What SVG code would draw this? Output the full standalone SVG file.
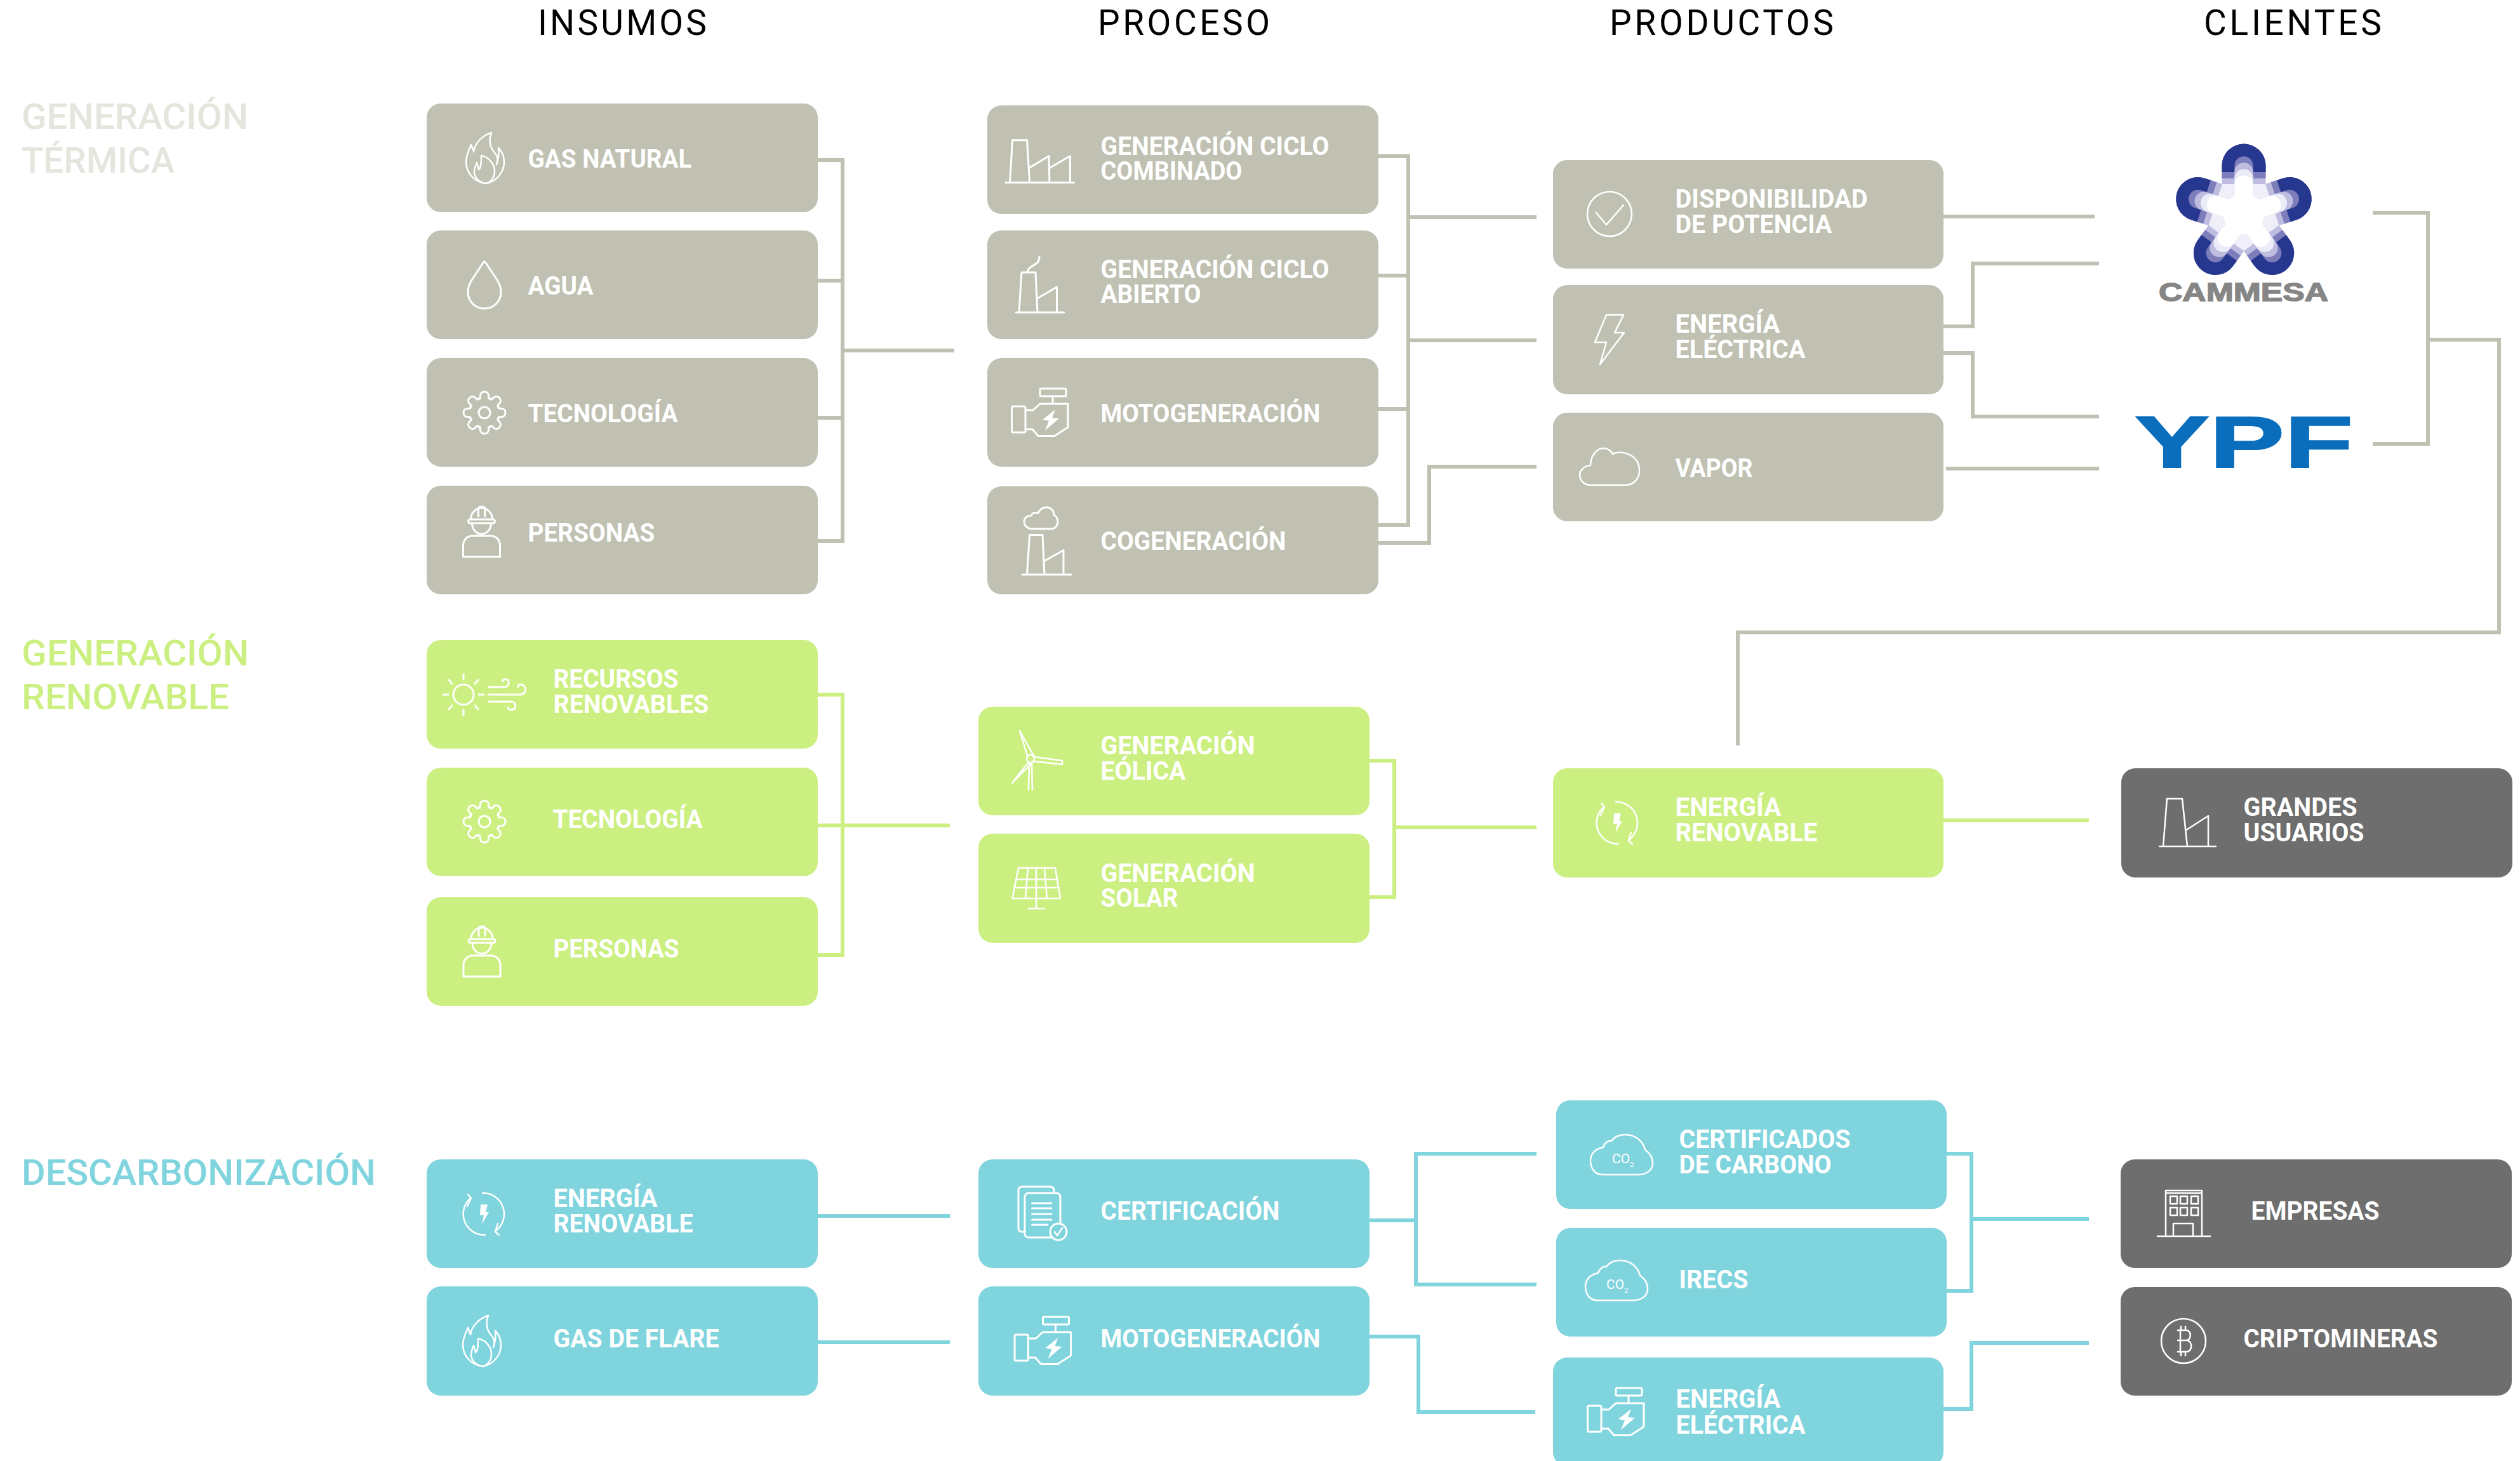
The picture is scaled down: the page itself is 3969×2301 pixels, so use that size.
<svg xmlns="http://www.w3.org/2000/svg" xmlns:xlink="http://www.w3.org/1999/xlink" width="3969" height="2301" viewBox="0 0 3969 2301">
<style>
text{font-family:Roboto,"Liberation Sans",sans-serif}
.box{stroke:none}
.beige{fill:#c0c1b2}.green{fill:#ccef82}.teal{fill:#80d4de}.grey{fill:#6e6e6e}
.t{fill:#fff;font-size:40px;font-weight:700;transform:translate(-1.5px,1px)}
.h{fill:#000;font-size:55px;font-weight:400}
.s{font-size:56px;font-weight:500;transform:translateX(-2px)}
.ic{fill:none;stroke:#fff;stroke-width:3;stroke-linejoin:round;stroke-linecap:round}
.thin{stroke-width:2.5}
.solid{fill:#fff;stroke:none}
.cb{fill:none;stroke:#c0c1b2;stroke-width:6}
.cg{fill:none;stroke:#ccef82;stroke-width:6}
.ct{fill:none;stroke:#80d4de;stroke-width:6}
.co{fill:#fff;stroke:none;font-size:21px;font-weight:400}
</style>
<defs>
<g id="flame" class="ic thin">
<path d="M1,40C-16,38 -30,24 -30,6C-30,-4 -26,-12 -22,-21L-18,-10C-16,-24 -4,-36 10,-40C4,-24 10,-14 17,-6C20,-2 20,4 18,10C21,2 22,-8 21,-16C27,-10 30,-2 30,6C30,24 16,38 1,40Z"/>
<path d="M1,40C-10,38 -17,30 -17,22C-17,16 -15,12 -13,7L-10,18C-6,16 -6,4 -6,-4C6,-2 15,10 15,20C15,30 10,38 1,40"/>
</g>
<g id="drop" class="ic"><path d="M-1.5,-36Q0,-38 1.5,-36L20,-8C25,0 26,6 26,11C26,26 14,37 0,37C-14,37 -26,26 -26,11C-26,6 -25,0 -20,-8Z"/></g>
<path id="lobe" d="M-9.2,-22.2C-6,-21 -6.5,-24 -6.5,-27C-6.5,-35 6.5,-35 6.5,-27C6.5,-24 6,-21 9.2,-22.2"/>
<g id="gear" class="ic">
<use href="#lobe"/><use href="#lobe" transform="rotate(45)"/><use href="#lobe" transform="rotate(90)"/><use href="#lobe" transform="rotate(135)"/><use href="#lobe" transform="rotate(180)"/><use href="#lobe" transform="rotate(225)"/><use href="#lobe" transform="rotate(270)"/><use href="#lobe" transform="rotate(315)"/>
<circle r="9"/>
</g>
<g id="person" class="ic">
<path d="M-17,-19C-17,-30 -8,-37 0,-37C8,-37 17,-30 17,-19"/>
<path d="M-5,-24V-36Q-5,-39 0,-39Q5,-39 5,-36V-24"/>
<rect x="-21" y="-19" width="42" height="6" rx="3"/>
<path d="M-15,-13C-15,-3 -8,4 0,4C8,4 15,-3 15,-13"/>
<path d="M-29,40V22C-29,13 -22,7 -15,7H15C22,7 29,13 29,22V40Z"/>
</g>
<g id="motor" class="ic">
<rect x="1593.6" y="640" width="21.4" height="41" rx="2"/>
<path d="M1615,646H1627L1638,636H1682V673L1661,686.5H1635L1626,676H1615"/>
<rect x="1638" y="612" width="41" height="12" rx="2"/>
<path d="M1658,624V636"/>
<path class="solid" d="M1662,645L1642,661L1652,663L1646,678L1668,659L1657,658Z"/>
</g>
<g id="recycle" class="ic thin">
<path d="M-2,-33A33,33 0 0 1 18,27"/><path d="M22,15L18,28L24,33"/>
<path d="M2,33A33,33 0 0 1 -22,-24"/><path d="M-25,-31L-20,-25L-26,-12"/>
<path class="solid" d="M-5,-15H6L3,-3H8L-3,16L0,2H-6Z"/>
</g>
<path id="cloudco" d="M19,63C6,63 0,52 0,41C0,30 8,22 20,20C22,13 28,9 33,10C38,3 47,0 55,0C70,0 83,10 86,24C93,28 98,36 98,45C98,56 88,63 76,63Z"/>
<g id="lobeband">
<path fill="#bebde0" d="M-34.5,-47V-76A34.5,34.5 0 0 1 34.5,-76V-47Z"/>
<path fill="#7e7dbc" d="M-34.5,-56V-76A34.5,34.5 0 0 1 34.5,-76V-56Z"/>
<path fill="#26378f" d="M-34.5,-66V-76A34.5,34.5 0 0 1 34.5,-76V-66Z"/>
</g>
<path id="spokes" fill="none" stroke-linecap="round" d="M0,0V-76M0,0L72.3,-23.5M0,0L44.7,61.5M0,0L-44.7,61.5M0,0L-72.3,-23.5"/>
<path id="spokes2" fill="none" stroke-linecap="round" d="M0,0V-66M0,0L62.8,-20.4M0,0L38.8,53.4M0,0L-38.8,53.4M0,0L-62.8,-20.4"/>
<path id="spokes3" fill="none" stroke-linecap="round" d="M0,0V-56M0,0L53.3,-17.3M0,0L32.9,45.3M0,0L-32.9,45.3M0,0L-53.3,-17.3"/>
<path id="spokes4" fill="none" stroke-linecap="round" d="M0,0V-46M0,0L43.7,-14.2M0,0L27,37.2M0,0L-27,37.2M0,0L-43.7,-14.2"/>
</defs>

<g id="connectors">
<path class="cb" d="M1288,252H1327V852H1288M1288,442H1327M1288,658H1327M1327,552H1503"/>
<path class="cb" d="M2171,246H2218V827H2171M2171,434H2218M2171,644H2218M2218,342H2420M2218,536H2420M2171,855H2251V735H2420"/>
<path class="cb" d="M3061,341H3299M3061,514H3107V415H3306M3061,556H3107V656H3306M3065,738H3306"/>
<path class="cb" d="M3737,335H3824V699H3737M3824,535H3936V996H2737V1174"/>
<path class="cg" d="M1288,1094H1327V1504H1288M1288,1300H1496M2157,1198H2196V1413H2157M2196,1303H2420M3061,1292H3290"/>
<path class="ct" d="M1288,1915H1496M1288,2114H1496M2157,1922H2230M2420,1817H2230V2023H2420M2157,2105H2234V2224H2418"/>
<path class="ct" d="M3066,1817H3105V2033H3066M3105,1920H3290M3061,2219H3105V2115H3290"/>
</g>

<g id="headers">
<text class="h" x="847" y="55" textLength="266">INSUMOS</text>
<text class="h" x="1729" y="55" textLength="271">PROCESO</text>
<text class="h" x="2535" y="55" textLength="353">PRODUCTOS</text>
<text class="h" x="3471" y="55" textLength="280">CLIENTES</text>
</g>

<g id="section-termica">
<text class="s" fill="#e4e5dd" x="36" y="203" textLength="357" lengthAdjust="spacingAndGlyphs">GENERACIÓN</text>
<text class="s" fill="#e4e5dd" x="36" y="272" textLength="241" lengthAdjust="spacingAndGlyphs">TÉRMICA</text>
</g>
<g id="section-renovable">
<text class="s" fill="#ccef82" x="36" y="1048" textLength="358" lengthAdjust="spacingAndGlyphs">GENERACIÓN</text>
<text class="s" fill="#ccef82" x="36" y="1117" textLength="327" lengthAdjust="spacingAndGlyphs">RENOVABLE</text>
</g>
<g id="section-descarbonizacion">
<text class="s" fill="#80d4de" x="36" y="1866" textLength="558" lengthAdjust="spacingAndGlyphs">DESCARBONIZACIÓN</text>
</g>

<g id="gas-natural"><rect class="box beige" x="672" y="163" width="616" height="171" rx="22"/>
<use href="#flame" transform="translate(764,249)"/>
<text class="t" x="833" y="263" textLength="258" lengthAdjust="spacingAndGlyphs">GAS NATURAL</text></g>
<g id="agua"><rect class="box beige" x="672" y="363" width="616" height="171" rx="22"/>
<use href="#drop" transform="translate(763,449)"/>
<text class="t" x="833" y="463" textLength="103" lengthAdjust="spacingAndGlyphs">AGUA</text></g>
<g id="tecnologia-t"><rect class="box beige" x="672" y="564" width="616" height="171" rx="22"/>
<use href="#gear" transform="translate(763,650)"/>
<text class="t" x="833" y="664" textLength="236" lengthAdjust="spacingAndGlyphs">TECNOLOGÍA</text></g>
<g id="personas-t"><rect class="box beige" x="672" y="765" width="616" height="171" rx="22"/>
<use href="#person" transform="translate(758.5,837)"/>
<text class="t" x="833" y="852" textLength="200" lengthAdjust="spacingAndGlyphs">PERSONAS</text></g>

<g id="ciclo-combinado"><rect class="box beige" x="1555" y="166" width="616" height="171" rx="22"/>
<g class="ic"><path d="M1584,287.5H1691.5M1590.5,287.5L1594.6,220.7H1617.6L1621.6,287.5M1620.6,264.6L1652,245.7L1653,287.5M1653,264.6L1685.4,245.7V287.5"/></g>
<text class="t" x="1735" y="243" textLength="360" lengthAdjust="spacingAndGlyphs">GENERACIÓN CICLO</text>
<text class="t" x="1735" y="282" textLength="223" lengthAdjust="spacingAndGlyphs">COMBINADO</text></g>
<g id="ciclo-abierto"><rect class="box beige" x="1555" y="363" width="616" height="171" rx="22"/>
<g class="ic"><path d="M1600,492H1676M1605,492L1609,429H1631L1634,492M1634,470L1664.5,452V492M1618,428C1622,415 1637,420 1637,404"/></g>
<text class="t" x="1735" y="437" textLength="360" lengthAdjust="spacingAndGlyphs">GENERACIÓN CICLO</text>
<text class="t" x="1735" y="476" textLength="158" lengthAdjust="spacingAndGlyphs">ABIERTO</text></g>
<g id="motogeneracion-t"><rect class="box beige" x="1555" y="564" width="616" height="171" rx="22"/>
<use href="#motor"/>
<text class="t" x="1735" y="664" textLength="346" lengthAdjust="spacingAndGlyphs">MOTOGENERACIÓN</text></g>
<g id="cogeneracion"><rect class="box beige" x="1555" y="766" width="616" height="170" rx="22"/>
<g class="ic"><path d="M1626,833C1618,833 1613,827 1613,822C1613,815 1618,812 1624,812C1626,808 1630,806 1635,808C1638,802 1643,799 1648,799C1655,799 1660,804 1660,811C1664,813 1666,818 1666,822C1666,828 1661,833 1656,833Z"/><path d="M1610,905H1687M1617.5,905L1621.6,842.6H1642L1645,905M1645,883.5L1675,866.6V905"/></g>
<text class="t" x="1735" y="865" textLength="292" lengthAdjust="spacingAndGlyphs">COGENERACIÓN</text></g>

<g id="disponibilidad"><rect class="box beige" x="2446" y="252" width="615" height="171" rx="22"/>
<g class="ic thin"><circle cx="2535" cy="337" r="35"/><path d="M2514,335L2530,354L2557,323"/></g>
<text class="t" x="2640" y="326" textLength="303" lengthAdjust="spacingAndGlyphs">DISPONIBILIDAD</text>
<text class="t" x="2640" y="366" textLength="247" lengthAdjust="spacingAndGlyphs">DE POTENCIA</text></g>
<g id="energia-electrica-t"><rect class="box beige" x="2446" y="449" width="615" height="172" rx="22"/>
<g class="ic thin"><path d="M2530,496H2557L2543,524H2558L2520,574L2530,539H2512Z"/></g>
<text class="t" x="2640" y="523" textLength="165" lengthAdjust="spacingAndGlyphs">ENERGÍA</text>
<text class="t" x="2640" y="563" textLength="205" lengthAdjust="spacingAndGlyphs">ELÉCTRICA</text></g>
<g id="vapor"><rect class="box beige" x="2446" y="650" width="615" height="171" rx="22"/>
<g class="ic thin"><path d="M2505,764C2492,764 2488,753 2488,748C2488,740 2497,733 2505,733C2505,718 2515,706 2525,706C2532,706 2538,710 2540,715C2552,708 2582,715 2582,741C2582,755 2572,764 2560,764Z"/></g>
<text class="t" x="2640" y="750" textLength="122" lengthAdjust="spacingAndGlyphs">VAPOR</text></g>

<g id="cammesa">
<g transform="translate(3534,337)">
<g stroke="#f0eff9" fill="none" stroke-width="69"><path d="M0,0V-47M0,0L44.7,-14.5M0,0L27.6,38M0,0L-27.6,38M0,0L-44.7,-14.5"/></g>
<use href="#lobeband"/><use href="#lobeband" transform="rotate(72)"/><use href="#lobeband" transform="rotate(144)"/><use href="#lobeband" transform="rotate(216)"/><use href="#lobeband" transform="rotate(288)"/>
<use href="#spokes" stroke="#7e7dbc" stroke-width="29.4"/>
<use href="#spokes2" stroke="#bebde0" stroke-width="29.4"/>
<use href="#spokes3" stroke="#ecebf8" stroke-width="29.4"/>
<use href="#spokes4" stroke="#fff" stroke-width="29.4"/>
<circle r="32" fill="#fff"/>
</g>
<text x="3400" y="474" fill="#868686" stroke="#868686" stroke-width="1.5" font-size="40" font-weight="700" textLength="267" lengthAdjust="spacingAndGlyphs" style="font-family:'Liberation Sans',sans-serif">CAMMESA</text>
</g>
<g id="ypf">
<text x="3362" y="735.5" fill="#0a6ebd" stroke="#0a6ebd" stroke-width="2" font-size="115" font-weight="700" textLength="344" lengthAdjust="spacingAndGlyphs" style="font-family:'Liberation Sans',sans-serif">YPF</text>
</g>

<g id="recursos"><rect class="box green" x="672" y="1008" width="616" height="171" rx="22"/>
<g class="ic"><circle cx="730" cy="1094" r="16"/><path d="M730,1062V1070M730,1118V1126M698,1094H706M754,1094H762M707,1071L712,1077M753,1071L748,1077M707,1117L712,1111M753,1117L748,1111"/>
<path d="M770,1082H795C802,1082 804,1070 797,1070C793,1069 791,1072 792,1073M770,1094H820C830,1094 830,1078 820,1078C816,1078 815,1081 816,1082M770,1105H805C814,1105 814,1118 806,1118C802,1118 800,1116 800,1114"/></g>
<text class="t" x="873" y="1082" textLength="197" lengthAdjust="spacingAndGlyphs">RECURSOS</text>
<text class="t" x="873" y="1122" textLength="245" lengthAdjust="spacingAndGlyphs">RENOVABLES</text></g>
<g id="tecnologia-r"><rect class="box green" x="672" y="1209" width="616" height="171" rx="22"/>
<use href="#gear" transform="translate(763,1294)"/>
<text class="t" x="872" y="1303" textLength="236" lengthAdjust="spacingAndGlyphs">TECNOLOGÍA</text></g>
<g id="personas-r"><rect class="box green" x="672" y="1413" width="616" height="171" rx="22"/>
<use href="#person" transform="translate(759,1498)"/>
<text class="t" x="873" y="1507" textLength="198" lengthAdjust="spacingAndGlyphs">PERSONAS</text></g>

<g id="eolica"><rect class="box green" x="1541" y="1113" width="616" height="171" rx="22"/>
<g class="ic thin"><circle cx="1623" cy="1195" r="6"/><path d="M1620,1244L1621,1201M1626,1244L1625,1201M1618,1190L1606,1151L1628,1190M1620,1200L1594,1233L1626,1201M1629,1192L1673,1198V1204L1629,1199"/></g>
<text class="t" x="1735" y="1187" textLength="243" lengthAdjust="spacingAndGlyphs">GENERACIÓN</text>
<text class="t" x="1735" y="1227" textLength="134" lengthAdjust="spacingAndGlyphs">EÓLICA</text></g>
<g id="solar"><rect class="box green" x="1541" y="1313" width="616" height="172" rx="22"/>
<g class="ic thin"><path d="M1604,1367H1662L1670,1415H1594.5ZM1600,1385H1666M1597,1398H1668M1619,1367L1615,1415M1632,1367V1415M1645,1367L1649,1415M1632,1415V1431M1620,1431H1645"/></g>
<text class="t" x="1735" y="1388" textLength="243" lengthAdjust="spacingAndGlyphs">GENERACIÓN</text>
<text class="t" x="1735" y="1427" textLength="122" lengthAdjust="spacingAndGlyphs">SOLAR</text></g>
<g id="energia-renovable-r"><rect class="box green" x="2446" y="1210" width="615" height="172" rx="22"/>
<use href="#recycle" transform="translate(2547,1296)"/>
<text class="t" x="2640" y="1284" textLength="167" lengthAdjust="spacingAndGlyphs">ENERGÍA</text>
<text class="t" x="2640" y="1324" textLength="224" lengthAdjust="spacingAndGlyphs">RENOVABLE</text></g>
<g id="grandes-usuarios"><rect class="box grey" x="3341" y="1210" width="616" height="172" rx="22"/>
<g class="ic thin"><path d="M3401,1333H3490M3407,1333L3413,1258H3437L3445,1333M3442,1308L3478,1285V1333"/></g>
<text class="t" x="3535" y="1284" textLength="179" lengthAdjust="spacingAndGlyphs">GRANDES</text>
<text class="t" x="3535" y="1324" textLength="190" lengthAdjust="spacingAndGlyphs">USUARIOS</text></g>

<g id="energia-renovable-d"><rect class="box teal" x="672" y="1826" width="616" height="171" rx="22"/>
<use href="#recycle" transform="translate(762,1912)"/>
<text class="t" x="873" y="1900" textLength="164" lengthAdjust="spacingAndGlyphs">ENERGÍA</text>
<text class="t" x="873" y="1940" textLength="220" lengthAdjust="spacingAndGlyphs">RENOVABLE</text></g>
<g id="gas-flare"><rect class="box teal" x="672" y="2026" width="616" height="172" rx="22"/>
<use href="#flame" transform="translate(759,2112)"/>
<text class="t" x="873" y="2121" textLength="261" lengthAdjust="spacingAndGlyphs">GAS DE FLARE</text></g>
<g id="certificacion"><rect class="box teal" x="1541" y="1826" width="616" height="171" rx="22"/>
<g class="ic"><path d="M1614,1940H1610Q1604,1940 1604,1934V1875Q1604,1869 1610,1869H1654Q1660,1869 1660,1875V1879"/><rect x="1614" y="1879" width="56" height="70" rx="6"/><path d="M1625.5,1895H1656M1625.5,1903H1656M1625.5,1912H1656M1625.5,1921H1656M1625.5,1929H1650"/>
<circle cx="1667" cy="1940" r="13" style="fill:#80d4de"/><path class="thin" d="M1661,1940L1665,1946L1673,1934"/></g>
<text class="t" x="1735" y="1920" textLength="282" lengthAdjust="spacingAndGlyphs">CERTIFICACIÓN</text></g>
<g id="motogeneracion-d"><rect class="box teal" x="1541" y="2026" width="616" height="172" rx="22"/>
<use href="#motor" transform="translate(4.5,1462)"/>
<text class="t" x="1735" y="2121" textLength="346" lengthAdjust="spacingAndGlyphs">MOTOGENERACIÓN</text></g>

<g id="certificados"><rect class="box teal" x="2451" y="1733" width="615" height="171" rx="22"/>
<use href="#cloudco" class="ic thin" transform="translate(2505,1787)"/>
<text class="co" x="2539" y="1832">CO<tspan font-size="11" dy="6">2</tspan></text>
<text class="t" x="2646" y="1807" textLength="270" lengthAdjust="spacingAndGlyphs">CERTIFICADOS</text>
<text class="t" x="2646" y="1847" textLength="240" lengthAdjust="spacingAndGlyphs">DE CARBONO</text></g>
<g id="irecs"><rect class="box teal" x="2451" y="1934" width="615" height="171" rx="22"/>
<use href="#cloudco" class="ic thin" transform="translate(2497,1985)"/>
<text class="co" x="2530" y="2030">CO<tspan font-size="11" dy="6">2</tspan></text>
<text class="t" x="2646" y="2028" textLength="109" lengthAdjust="spacingAndGlyphs">IRECS</text></g>
<g id="energia-electrica-d"><rect class="box teal" x="2446" y="2138" width="615" height="171" rx="22"/>
<use href="#motor" transform="translate(907,1574)"/>
<text class="t" x="2641" y="2216" textLength="165" lengthAdjust="spacingAndGlyphs">ENERGÍA</text>
<text class="t" x="2641" y="2257" textLength="204" lengthAdjust="spacingAndGlyphs">ELÉCTRICA</text></g>

<g id="empresas"><rect class="box grey" x="3340" y="1826" width="616" height="171" rx="22"/>
<g class="ic thin"><path d="M3398,1947H3481M3411,1947V1875H3468V1947M3411,1879H3468M3423,1947V1927H3454V1947"/><rect x="3418" y="1884" width="11" height="12"/><rect x="3434" y="1884" width="11" height="12"/><rect x="3451" y="1884" width="11" height="12"/><rect x="3418" y="1902" width="11" height="12"/><rect x="3434" y="1902" width="11" height="12"/><rect x="3451" y="1902" width="11" height="12"/></g>
<text class="t" x="3547" y="1920" textLength="202" lengthAdjust="spacingAndGlyphs">EMPRESAS</text></g>
<g id="criptomineras"><rect class="box grey" x="3340" y="2027" width="616" height="171" rx="22"/>
<g class="ic thin"><circle cx="3439" cy="2112" r="35"/><path d="M3430,2095H3443C3452,2095 3452,2111 3443,2111H3430M3443,2111C3454,2111 3454,2129 3443,2129H3430M3434,2095V2129M3435,2089V2095M3442,2089V2095M3435,2129V2135M3442,2129V2135"/></g>
<text class="t" x="3535" y="2121" textLength="306" lengthAdjust="spacingAndGlyphs">CRIPTOMINERAS</text></g>
</svg>
